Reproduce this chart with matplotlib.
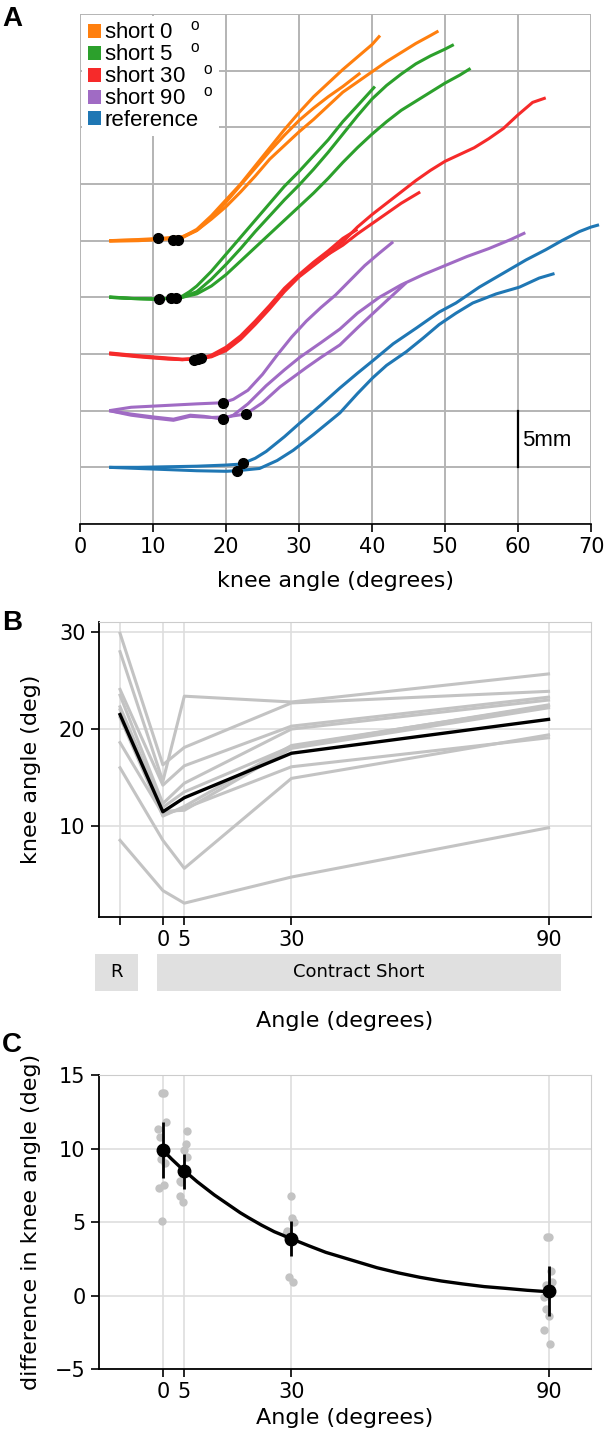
import numpy as np
import matplotlib
matplotlib.use("Agg")
import matplotlib.pyplot as plt
from matplotlib.patches import Patch, Rectangle
import matplotlib.transforms as mtransforms

plt.rcParams['mathtext.fontset'] = 'custom'
plt.rcParams['mathtext.rm'] = 'Liberation Sans'

# ---------------- panel A data (knee angle in deg, displacement in mm) ----------------
o1_x = [4, 8, 11, 14, 16, 18, 20, 22, 24, 26, 28, 30, 32, 34, 36, 38, 40, 41.1]
o1_y = [20.0, 20.05, 20.15, 20.3, 21.0, 22.2, 23.6, 25.0, 26.6, 28.2, 29.8, 31.3, 32.7, 33.9, 35.1, 36.2, 37.3, 38.1]
o2_x = [4, 8, 11, 14, 16, 18, 20, 22, 24, 26, 28, 30, 32, 34, 36, 38.4]
o2_y = [19.95, 20.0, 20.1, 20.25, 20.9, 22.0, 23.4, 24.9, 26.4, 27.9, 29.3, 30.6, 31.7, 32.7, 33.6, 34.8]
o3_x = [4, 8, 11, 14, 16, 18, 20, 22, 24, 26, 28, 30, 32, 34, 36, 38, 40, 42, 44, 46, 48, 49.1]
o3_y = [20.0, 20.1, 20.2, 20.35, 20.9, 21.9, 23.0, 24.3, 25.7, 27.2, 28.4, 29.6, 30.7, 31.9, 33.1, 34.0, 34.9, 35.8, 36.6, 37.4, 38.1, 38.5]

g1_x = [4, 7, 10, 12, 14, 15, 16, 18, 20, 22, 24, 26, 28, 30, 32, 34, 36, 38, 40.4]
g1_y = [15.05, 14.9, 14.85, 14.9, 15.1, 15.5, 16.0, 17.3, 18.8, 20.3, 21.8, 23.3, 24.8, 26.1, 27.5, 28.9, 30.5, 31.9, 33.6]
g2_x = [4, 7, 10, 12, 14, 16, 18, 20, 22, 24, 26, 28, 30, 32, 34, 36, 38, 40, 42, 44, 46, 48, 50, 51.2]
g2_y = [15.0, 14.9, 14.85, 14.9, 15.0, 15.5, 16.6, 17.9, 19.3, 20.8, 22.2, 23.6, 24.9, 26.3, 27.8, 29.4, 31.0, 32.5, 33.7, 34.7, 35.6, 36.3, 36.9, 37.3]
g3_x = [4, 7, 10, 12, 14, 16, 18, 20, 22, 24, 26, 28, 30, 32, 34, 36, 38, 40, 42, 44, 46, 48, 50, 52, 53.5]
g3_y = [15.0, 14.9, 14.85, 14.9, 15.0, 15.3, 16.0, 17.0, 18.2, 19.4, 20.6, 21.8, 23.0, 24.2, 25.5, 26.9, 28.2, 29.4, 30.5, 31.5, 32.3, 33.1, 33.9, 34.6, 35.2]

r1_x = [4, 8, 12, 14, 16, 18, 20, 22, 24, 26, 28, 30, 32, 34, 36, 38, 40, 42, 44, 46, 48, 50, 52, 54, 56, 58, 60, 62, 63.8]
r1_y = [10.05, 9.8, 9.6, 9.5, 9.55, 9.75, 10.3, 11.3, 12.6, 14.0, 15.5, 16.8, 17.8, 18.8, 19.9, 21.2, 22.3, 23.3, 24.3, 25.3, 26.2, 27.0, 27.6, 28.2, 29.0, 29.9, 31.1, 32.2, 32.6]
r2_x = [4, 8, 12, 14, 16, 18, 20, 22, 24, 26, 28, 30, 32, 34, 36, 38, 40, 42, 44, 46.6]
r2_y = [10.0, 9.75, 9.55, 9.5, 9.6, 9.8, 10.4, 11.4, 12.8, 14.2, 15.6, 16.9, 17.9, 18.8, 19.6, 20.6, 21.5, 22.4, 23.3, 24.3]
r3_x = [4, 8, 12, 14, 16.6, 18, 20, 22, 24, 26, 28, 30, 32, 34, 36, 38]
r3_y = [10.1, 9.85, 9.65, 9.55, 9.62, 9.9, 10.6, 11.6, 12.9, 14.3, 15.8, 17.0, 18.1, 19.1, 20.2, 21.0]

p1_x = [4, 7, 10, 13, 16, 19.6, 21, 23, 25, 27, 29, 31, 33, 35, 37, 39, 41, 42.9]
p1_y = [5.0, 5.3, 5.4, 5.5, 5.6, 5.7, 6.0, 6.8, 8.2, 9.9, 11.5, 12.9, 14.1, 15.2, 16.5, 17.8, 18.9, 19.9]
p2_x = [4, 7, 10, 12.8, 15.1, 17, 19.6, 21, 23, 25.5, 28, 30.1, 33, 35.6, 38, 41, 44, 47, 50, 53, 56, 59, 61]
p2_y = [5.0, 4.7, 4.45, 4.25, 4.6, 4.5, 4.25, 4.6, 5.6, 7.2, 8.6, 9.7, 11.0, 12.2, 13.6, 15.0, 16.1, 17.0, 17.8, 18.6, 19.3, 20.1, 20.7]
p3_x = [4, 7, 10, 12.8, 15.1, 18, 20, 22.7, 25, 27.4, 31, 33, 35.6, 38, 41, 44.7]
p3_y = [5.0, 4.6, 4.35, 4.15, 4.5, 4.4, 4.45, 4.7, 5.7, 7.1, 8.8, 9.7, 10.8, 12.3, 14.1, 16.3]

b1_x = [4, 8, 12, 16, 20, 22.1, 24, 25.5, 28, 30.1, 33, 35.6, 38, 40.1, 42.9, 46.1, 49.2, 51.5, 54.7, 57.9, 61.1, 63.8, 66, 68.4, 70, 71.1]
b1_y = [0.0, 0.0, 0.05, 0.1, 0.2, 0.29, 0.8, 1.4, 2.7, 3.9, 5.5, 7.0, 8.3, 9.4, 10.9, 12.3, 13.7, 14.5, 15.9, 17.1, 18.3, 19.2, 20.0, 20.8, 21.2, 21.4]
b2_x = [4, 8, 12, 16, 20, 21.5, 24.6, 27, 29.2, 32, 35.6, 38, 40.1, 42, 44.7, 47, 49.2, 51.5, 53.8, 57.0, 60.2, 62.9, 65.0]
b2_y = [0.0, -0.1, -0.2, -0.3, -0.35, -0.3, -0.1, 0.6, 1.5, 2.9, 4.8, 6.5, 7.9, 9.0, 10.2, 11.4, 12.6, 13.6, 14.5, 15.3, 15.9, 16.7, 17.1]

# onset markers
onset_x = [10.7, 12.8, 13.4, 10.8, 12.4, 13.2, 15.6, 16.2, 16.6, 19.6, 19.6, 22.7, 22.3, 21.5]
onset_y = [20.2, 20.05, 20.05, 14.85, 14.95, 14.95, 9.5, 9.6, 9.62, 5.7, 4.25, 4.7, 0.35, -0.3]

labels_a = ['short 0', 'short 5', 'short 30', 'short 90', 'reference']
colors_a = ['#ff7f0e', '#2ca02c', '#f62a2a', '#a06bc4', '#1f77b4']

# ---------------- panel B data ----------------
angle_pos = [-10, 0, 5, 30, 90]
subjects = [
    [29.9, 16.3, 18.1, 22.7, 23.9],
    [28.0, 14.6, 23.4, 22.8, 25.7],
    [24.1, 14.2, 16.2, 20.3, 23.3],
    [23.5, 12.3, 14.4, 20.0, 23.0],
    [22.3, 11.9, 13.5, 18.2, 22.5],
    [22.0, 11.5, 11.6, 18.0, 22.2],
    [21.2, 11.0, 12.0, 18.3, 22.4],
    [18.6, 11.2, 11.8, 16.1, 19.1],
    [16.0, 8.5, 5.6, 14.9, 19.4],
    [8.5, 3.3, 2.0, 4.7, 9.8],
]
mean_b = [21.5, 11.45, 12.9, 17.5, 21.0]

# ---------------- panel C data ----------------
angles_c = [0, 5, 30, 90]
diff_0 = [13.8, 13.8, 11.8, 11.3, 10.8, 9.3, 9.0, 7.5, 7.3, 5.1]
jit_0 = [-0.3, 0.2, 0.65, -1.1, -0.75, -0.5, 0.5, 0.3, -0.9, -0.1]
diff_5 = [11.2, 10.3, 9.9, 9.4, 7.8, 7.7, 6.8, 6.4]
jit_5 = [0.7, 0.35, -0.1, 0.55, -1.1, -0.8, -0.9, -0.25]
diff_30 = [6.8, 5.3, 5.0, 4.4, 4.2, 3.7, 1.3, 0.9]
jit_30 = [-0.15, 0.2, 0.6, -0.95, -1.2, -0.6, -0.65, 0.35]
diff_90 = [4.0, 4.0, 1.7, 0.9, 0.7, -0.1, -0.9, -1.4, -2.3, -3.3]
jit_90 = [-0.4, 0.17, 0.6, 0.9, -0.5, -1.0, -0.7, 0.0, -1.0, 0.25]
mean_c = [9.93, 8.45, 3.87, 0.34]
sem_c = [1.9, 1.2, 1.2, 1.7]
fit_x = [0, 2, 4, 6, 8, 10, 12, 14, 16, 18, 20, 23, 26, 30, 34, 38, 42, 46, 50, 55, 60, 65, 70, 75, 80, 85, 90]
fit_y = [9.9, 9.3, 8.75, 8.25, 7.75, 7.3, 6.85, 6.45, 6.05, 5.65, 5.3, 4.8, 4.35, 3.87, 3.4, 2.95, 2.6, 2.25, 1.9, 1.55, 1.25, 1.0, 0.8, 0.62, 0.5, 0.37, 0.27]

fig = plt.figure(figsize=(6.06, 14.38), dpi=100)

# ---------------- A ----------------
ax = fig.add_axes([80/606, 1-524/1438, 511/606, 510/1438])
curves = [
    [(o1_x, o1_y), (o2_x, o2_y), (o3_x, o3_y)],
    [(g1_x, g1_y), (g2_x, g2_y), (g3_x, g3_y)],
    [(r1_x, r1_y), (r2_x, r2_y), (r3_x, r3_y)],
    [(p1_x, p1_y), (p2_x, p2_y), (p3_x, p3_y)],
    [(b1_x, b1_y), (b2_x, b2_y)],
]
for group, c in zip(curves, colors_a):
    for xs, ys in group:
        ax.plot(xs, ys, color=c, lw=2.2, solid_capstyle='butt', solid_joinstyle='round',
                clip_on=False, zorder=3)
ax.plot(onset_x, onset_y, 'o', color='black', ms=7, zorder=4)
ax.plot([60, 60], [0, 5], color='black', lw=1.6, zorder=4)
ax.text(60.5, 2.4, '5mm', fontsize=16, family='Liberation Sans', va='center', ha='left')

ax.set_xlim(0, 70)
ax.set_ylim(-5, 40)
ax.set_xticks(np.arange(0, 71, 10))
ax.set_yticks(np.arange(-5, 41, 5))
ax.tick_params(axis='y', left=False, labelleft=False)
ax.tick_params(axis='x', labelsize=15, length=6, width=1.2)
ax.grid(True, color='#b4b4b4', lw=1.4)
ax.set_axisbelow(True)
for s in ['left', 'top', 'right']:
    ax.spines[s].set_visible(False)
ax.spines['bottom'].set_linewidth(1.2)
ax.set_xlabel('knee angle (degrees)', fontsize=16, labelpad=10)

handles = [Patch(facecolor=c, edgecolor='none') for c in colors_a]
leg_labels = [l + '   $^\\mathrm{o}$' if l != 'reference' else l for l in labels_a]
leg = ax.legend(handles, leg_labels, loc='upper left', bbox_to_anchor=(0.0, 1.0),
                prop={'family': 'Liberation Sans', 'size': 16}, frameon=True,
                fancybox=False, edgecolor='none', facecolor='white', framealpha=1,
                handlelength=0.6, handleheight=0.6, handletextpad=0.15,
                labelspacing=0.0, borderpad=0.25, borderaxespad=0.1)
leg.set_zorder(5)

# ---------------- B ----------------
axb = fig.add_axes([98.6/606, 1-916.7/1438, 492.8/606, 295/1438])
for row in subjects:
    axb.plot(angle_pos, row, color='#c3c3c3', lw=2.2, zorder=2)
axb.plot(angle_pos, mean_b, color='black', lw=2.4, zorder=3)
axb.set_xlim(-15, 100)
axb.set_ylim(0.6, 31.1)
axb.set_xticks(angle_pos)
axb.set_xticklabels(['', '0', '5', '30', '90'])
axb.set_yticks([10, 20, 30])
axb.grid(True, color='#dedede', lw=1.2)
axb.set_axisbelow(True)
axb.tick_params(labelsize=15, length=6, width=1.2)
for s in ['top', 'right']:
    axb.spines[s].set_color('#cccccc')
for s in ['left', 'bottom']:
    axb.spines[s].set_linewidth(1.3)
axb.set_ylabel('knee angle (deg)', fontsize=16)
axb.yaxis.set_label_coords(-0.117, 0.5)
axb.set_xlabel('Angle (degrees)', fontsize=16)
axb.xaxis.set_label_coords(0.5, -0.32)

trans = mtransforms.blended_transform_factory(axb.transData, axb.transAxes)
for x0, x1, txt in [(-15.9, -5.8, 'R'), (-1.36, 92.9, 'Contract Short')]:
    axb.add_patch(Rectangle((x0, -0.251), x1 - x0, 0.125, transform=trans,
                            facecolor='#e0e0e0', edgecolor='none', clip_on=False))
    axb.text((x0 + x1) / 2, -0.1885, txt, transform=trans, ha='center', va='center', fontsize=13)

# ---------------- C ----------------
axc = fig.add_axes([98.6/606, 1-1369.3/1438, 492.8/606, 294.3/1438])
for a, vals, jit in [(0, diff_0, jit_0), (5, diff_5, jit_5), (30, diff_30, jit_30), (90, diff_90, jit_90)]:
    axc.plot(np.array(jit) + a, vals, 'o', color='#c3c3c3', ms=5, zorder=2)
axc.plot(fit_x, fit_y, color='black', lw=2.4, zorder=3)
axc.errorbar(angles_c, mean_c, yerr=sem_c, fmt='o', color='black', ms=9, elinewidth=2, capsize=0, zorder=4)
axc.set_xlim(-15, 100)
axc.set_ylim(-5, 15)
axc.set_xticks(angles_c)
axc.set_yticks([-5, 0, 5, 10, 15])
axc.grid(True, color='#dedede', lw=1.2)
axc.set_axisbelow(True)
axc.tick_params(labelsize=15, length=6, width=1.2)
for s in ['top', 'right']:
    axc.spines[s].set_color('#cccccc')
for s in ['left', 'bottom']:
    axc.spines[s].set_linewidth(1.3)
axc.set_ylabel('difference in knee angle (deg)', fontsize=16)
axc.yaxis.set_label_coords(-0.117, 0.5)
axc.set_xlabel('Angle (degrees)', fontsize=16)

# panel letters
for y, t in [(6, 'A'), (610, 'B'), (1032, 'C')]:
    fig.text(2/606, 1 - y/1438, t, fontsize=20, fontweight='bold', family='Liberation Sans',
             ha='left', va='top')

fig.savefig('out.png', dpi=100)
